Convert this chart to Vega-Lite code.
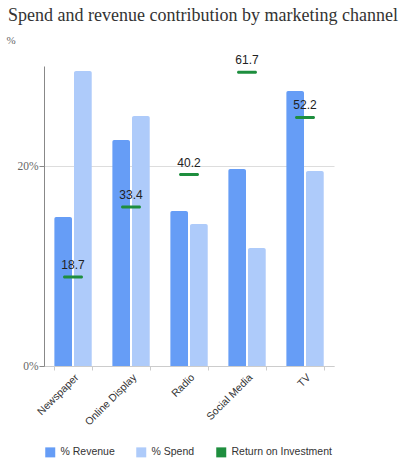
{
  "$schema": "https://vega.github.io/schema/vega-lite/v6.json",
  "width": 290,
  "height": 300,
  "autosize": "none",
  "padding": {"left": 44, "top": 66, "right": 66, "bottom": 94},
  "background": "white",
  "title": {
    "text": "Spend and revenue contribution by marketing channel",
    "anchor": "start",
    "frame": "group",
    "dx": -36,
    "offset": 9,
    "font": "Liberation Serif",
    "fontSize": 18,
    "fontWeight": "normal",
    "color": "#333333"
  },
  "datasets": {
    "share": [
      {"channel": "Newspaper", "series": "% Revenue", "value": 14.9},
      {"channel": "Newspaper", "series": "% Spend", "value": 29.5},
      {"channel": "Online Display", "series": "% Revenue", "value": 22.6},
      {"channel": "Online Display", "series": "% Spend", "value": 25.0},
      {"channel": "Radio", "series": "% Revenue", "value": 15.5},
      {"channel": "Radio", "series": "% Spend", "value": 14.2},
      {"channel": "Social Media", "series": "% Revenue", "value": 19.7},
      {"channel": "Social Media", "series": "% Spend", "value": 11.8},
      {"channel": "TV", "series": "% Revenue", "value": 27.5},
      {"channel": "TV", "series": "% Spend", "value": 19.5}
    ],
    "roi": [
      {"channel": "Newspaper", "roi": 18.7},
      {"channel": "Online Display", "roi": 33.4},
      {"channel": "Radio", "roi": 40.2},
      {"channel": "Social Media", "roi": 61.7},
      {"channel": "TV", "roi": 52.2}
    ]
  },
  "encoding": {
    "x": {
      "field": "channel",
      "type": "nominal",
      "sort": ["Newspaper", "Online Display", "Radio", "Social Media", "TV"],
      "scale": {"paddingInner": 0.35, "paddingOuter": 0.175},
      "axis": {
        "title": null,
        "labelAngle": -45,
        "labelFont": "Liberation Sans",
        "labelFontSize": 10.5,
        "labelColor": "#333333",
        "domainColor": "#cccccc",
        "tickColor": "#cccccc",
        "tickBand": "extent",
        "tickSize": 4,
        "grid": false
      }
    },
    "color": {
      "scale": {
        "domain": ["% Revenue", "% Spend", "Return on Investment"],
        "range": ["#669df6", "#aecbfa", "#1e8e3e"]
      },
      "legend": {
        "title": null,
        "orient": "none",
        "direction": "horizontal",
        "legendX": 1,
        "legendY": 381,
        "symbolType": "square",
        "symbolSize": 100,
        "symbolStrokeWidth": 0,
        "symbolOpacity": 1,
        "labelFont": "Liberation Sans",
        "labelFontSize": 10.5,
        "labelColor": "#333333",
        "labelOffset": 5,
        "columnPadding": 21
      }
    }
  },
  "layer": [
    {
      "data": {"name": "share"},
      "mark": {"type": "bar", "cornerRadiusTopLeft": 2, "cornerRadiusTopRight": 2},
      "encoding": {
        "xOffset": {
          "field": "series",
          "type": "nominal",
          "scale": {"paddingInner": 0.1, "paddingOuter": 0}
        },
        "y": {
          "field": "value",
          "type": "quantitative",
          "scale": {"domain": [0, 30], "nice": false},
          "axis": {
            "values": [0, 20],
            "labelExpr": "datum.value + '%'",
            "title": "%",
            "titleAngle": 0,
            "titleX": -38,
            "titleY": -26,
            "titleAlign": "left",
            "titleBaseline": "middle",
            "titleFont": "Liberation Serif",
            "titleFontSize": 11,
            "titleFontWeight": "normal",
            "titleColor": "#666666",
            "labelFont": "Liberation Serif",
            "labelFontSize": 11.5,
            "labelColor": "#666666",
            "labelPadding": 1,
            "tickSize": 5,
            "tickColor": "#888888",
            "domainColor": "#888888",
            "gridColor": "#dddddd"
          }
        },
        "color": {"field": "series", "type": "nominal"}
      }
    },
    {
      "data": {"name": "roi"},
      "encoding": {
        "y": {
          "field": "roi",
          "type": "quantitative",
          "scale": {"domain": [0, 63], "nice": false},
          "axis": null
        }
      },
      "layer": [
        {
          "mark": {"type": "tick", "orient": "horizontal", "size": 20, "thickness": 3, "cornerRadius": 1.5, "opacity": 1},
          "encoding": {"color": {"datum": "Return on Investment"}}
        },
        {
          "mark": {"type": "text", "dy": -8, "baseline": "alphabetic", "font": "Liberation Sans", "fontSize": 12, "color": "#222222"},
          "encoding": {"text": {"field": "roi", "type": "quantitative", "format": ".1f"}}
        }
      ]
    }
  ],
  "resolve": {"scale": {"y": "independent"}, "axis": {"y": "independent"}},
  "config": {
    "view": {"stroke": null}
  }
}
